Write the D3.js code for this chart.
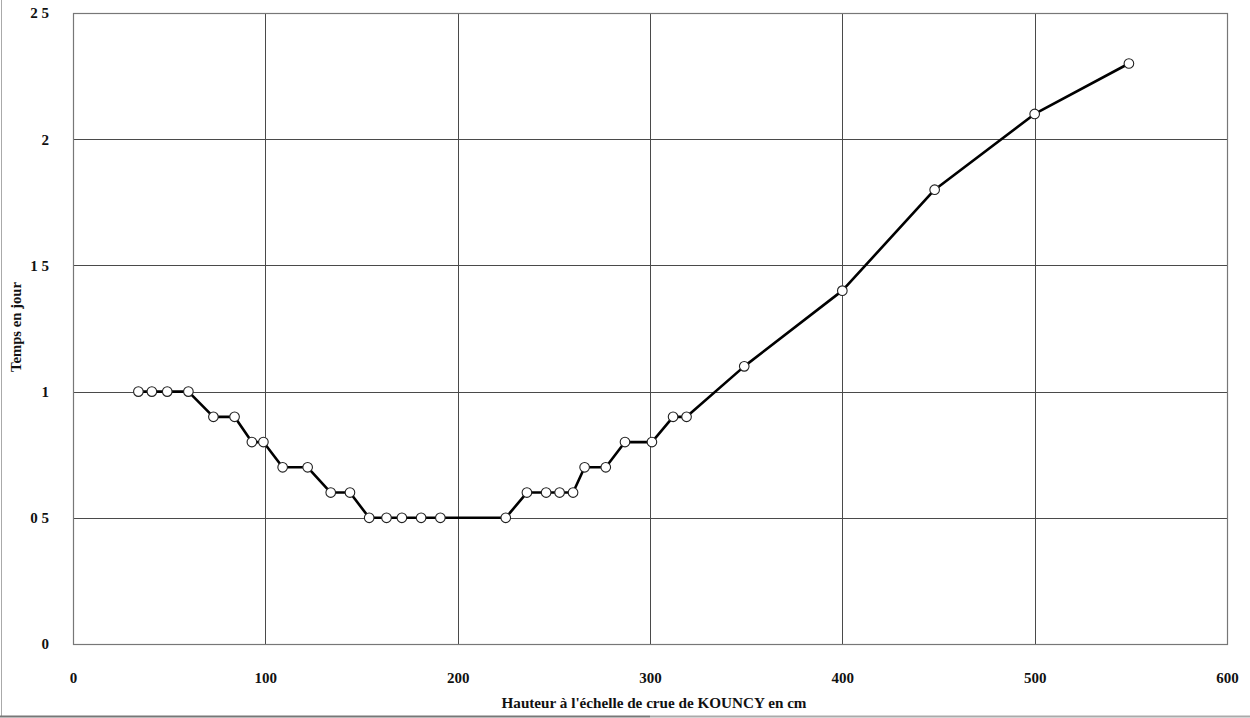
<!DOCTYPE html>
<html>
<head>
<meta charset="utf-8">
<script src="https://cdn.jsdelivr.net/npm/d3@7"></script>
<style>
  html, body { margin: 0; padding: 0; background: #fff; }
  svg { display: block; }
  text { font-family: "Liberation Serif", "Times New Roman", serif; font-weight: bold; fill: #111; }
</style>
</head>
<body>
<svg id="chart" width="1250" height="718"></svg>
<script>
// Hauteur à l'échelle (cm) and travel time (days)
const hauteur = [34, 41, 49, 60, 73, 84, 93, 99, 109, 122, 134, 144, 154, 163, 171, 181, 191, 225,
                 236, 246, 253, 260, 266, 277, 287, 301, 312, 319, 349, 400, 448, 500, 549];
const temps   = [1.0, 1.0, 1.0, 1.0, 0.9, 0.9, 0.8, 0.8, 0.7, 0.7, 0.6, 0.6, 0.5, 0.5, 0.5, 0.5, 0.5, 0.5,
                 0.6, 0.6, 0.6, 0.6, 0.7, 0.7, 0.8, 0.8, 0.9, 0.9, 1.1, 1.4, 1.8, 2.1, 2.3];

const xTicks = [0, 100, 200, 300, 400, 500, 600];
const yTicks = [0, 0.5, 1, 1.5, 2, 2.5];
const yTickLabels = ["0", "0 5", "1", "1 5", "2", "2 5"];

const svg = d3.select("#chart");
const m = { left: 73, top: 13, right: 1227, bottom: 644 };

const x = d3.scaleLinear().domain([0, 600]).range([m.left, m.right]);
const y = d3.scaleLinear().domain([0, 2.5]).range([m.bottom, m.top]);

// outer frame lines (left and bottom edges)
svg.append("line").attr("x1", 1.5).attr("x2", 1.5).attr("y1", 0).attr("y2", 716)
  .attr("stroke", "#aaa").attr("stroke-width", 1);
svg.append("line").attr("x1", 0).attr("x2", 650).attr("y1", 716.5).attr("y2", 716.5)
  .attr("stroke", "#777").attr("stroke-width", 2);
svg.append("line").attr("x1", 650).attr("x2", 1250).attr("y1", 716.5).attr("y2", 716.5)
  .attr("stroke", "#aaa").attr("stroke-width", 2);

// grid
const grid = svg.append("g");
grid.selectAll("line.v").data(xTicks.slice(1, -1)).enter().append("line")
  .attr("x1", d => Math.round(x(d)) + 0.5).attr("x2", d => Math.round(x(d)) + 0.5)
  .attr("y1", m.top).attr("y2", m.bottom)
  .attr("stroke", "#4a4a4a").attr("stroke-width", 1);
grid.selectAll("line.h").data(yTicks.slice(1, -1)).enter().append("line")
  .attr("x1", m.left).attr("x2", m.right)
  .attr("y1", d => Math.round(y(d)) + 0.5).attr("y2", d => Math.round(y(d)) + 0.5)
  .attr("stroke", "#4a4a4a").attr("stroke-width", 1);

// plot frame
svg.append("rect")
  .attr("x", m.left + 0.5).attr("y", m.top + 0.5)
  .attr("width", m.right - m.left).attr("height", m.bottom - m.top)
  .attr("fill", "none").attr("stroke", "#777").attr("stroke-width", 1.2);

// axes labels via d3 axes with hidden domain/ticks
const xAxis = d3.axisBottom(x).tickValues(xTicks).tickSize(0).tickPadding(28).tickFormat(d3.format("d"));
svg.append("g").attr("transform", `translate(0,${m.bottom})`).call(xAxis)
  .call(g => g.select(".domain").remove())
  .selectAll("text").style("font-size", "15px").style("font-family", "Liberation Serif, serif")
  .style("font-weight", "bold").style("fill", "#111");

const yAxis = d3.axisLeft(y).tickValues(yTicks).tickSize(0).tickPadding(24)
  .tickFormat((d, i) => yTickLabels[i]);
svg.append("g").attr("transform", `translate(${m.left},0)`).call(yAxis)
  .call(g => g.select(".domain").remove())
  .selectAll("text").style("font-size", "15px").style("font-family", "Liberation Serif, serif")
  .style("font-weight", "bold").style("fill", "#111");

// axis titles
svg.append("text").attr("x", 654).attr("y", 708).attr("text-anchor", "middle")
  .attr("textLength", 305).attr("lengthAdjust", "spacingAndGlyphs")
  .style("font-size", "15.5px").text("Hauteur à l'échelle de crue de KOUNCY en cm");
svg.append("text").attr("transform", "translate(21,327) rotate(-90)").attr("text-anchor", "middle")
  .attr("textLength", 90).attr("lengthAdjust", "spacingAndGlyphs")
  .style("font-size", "15px").text("Temps en jour");

// series
const pts = hauteur.map((h, i) => [h, temps[i]]);
svg.append("path").datum(pts)
  .attr("d", d3.line().x(d => x(d[0])).y(d => y(d[1])))
  .attr("fill", "none").attr("stroke", "#000").attr("stroke-width", 2.6).attr("stroke-linejoin", "round");

svg.append("g").selectAll("circle").data(pts).enter().append("circle")
  .attr("cx", d => x(d[0])).attr("cy", d => y(d[1])).attr("r", 4.8)
  .attr("fill", "#fff").attr("stroke", "#222").attr("stroke-width", 1.1);
</script>
</body>
</html>
